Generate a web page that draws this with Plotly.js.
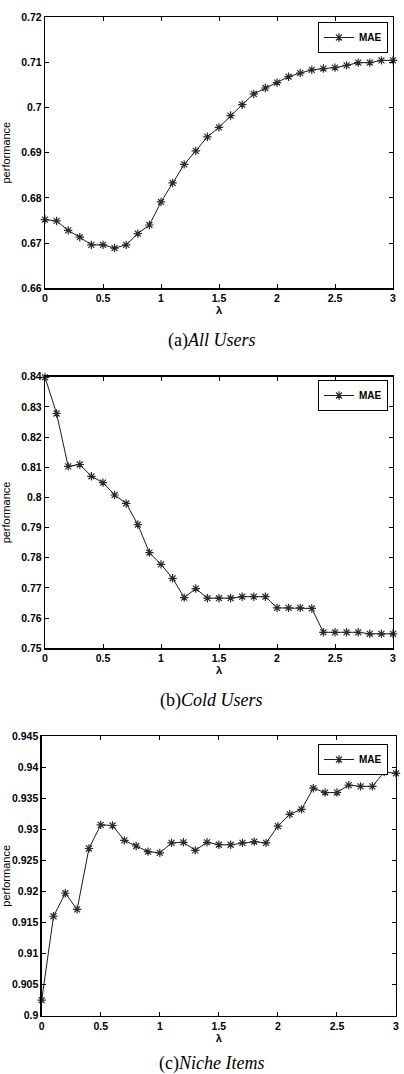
<!DOCTYPE html>
<html>
<head>
<meta charset="utf-8">
<script src="https://cdn.plot.ly/plotly-3.0.1.min.js"></script>
<style>
  html, body { margin: 0; padding: 0; background: #fff; }
  #chart { width: 404px; height: 1074px; }
</style>
</head>
<body>
<div id="chart"></div>
<script>
// Weight parameter lambda, shared by the three panels
const lambda = [0, 0.1, 0.2, 0.3, 0.4, 0.5, 0.6, 0.7, 0.8, 0.9,
                1.0, 1.1, 1.2, 1.3, 1.4, 1.5, 1.6, 1.7, 1.8, 1.9,
                2.0, 2.1, 2.2, 2.3, 2.4, 2.5, 2.6, 2.7, 2.8, 2.9, 3.0];

// MAE for all users
const maeAllUsers = [0.6752, 0.6749, 0.6728, 0.6713, 0.6696, 0.6696, 0.6689, 0.6696, 0.6721, 0.6740,
                     0.6791, 0.6833, 0.6874, 0.6904, 0.6935, 0.6956, 0.6982, 0.7006, 0.7030, 0.7043,
                     0.7055, 0.7068, 0.7076, 0.7083, 0.7086, 0.7088, 0.7093, 0.7099, 0.7099, 0.7104, 0.7104];

// MAE for cold users
const maeColdUsers = [0.8398, 0.8278, 0.8103, 0.8109, 0.8070, 0.8049, 0.8008, 0.7980, 0.7910, 0.7817,
                      0.7778, 0.7732, 0.7668, 0.7698, 0.7666, 0.7666, 0.7666, 0.7671, 0.7671, 0.7671,
                      0.7634, 0.7634, 0.7634, 0.7632, 0.7553, 0.7553, 0.7553, 0.7553, 0.7548, 0.7548, 0.7548];

// MAE for niche items
const maeNicheItems = [0.9025, 0.9160, 0.9197, 0.9171, 0.9269, 0.9307, 0.9306, 0.9282, 0.9273, 0.9264,
                       0.9262, 0.9278, 0.9279, 0.9266, 0.9279, 0.9275, 0.9275, 0.9278, 0.9280, 0.9278,
                       0.9305, 0.9324, 0.9332, 0.9366, 0.9359, 0.9359, 0.9371, 0.9369, 0.9369, 0.9392, 0.9390];

// Tick labels
const xTickVals = [0, 0.5, 1, 1.5, 2, 2.5, 3];
const xTickText = ['0', '0.5', '1', '1.5', '2', '2.5', '3'];
const yTickValsA = [0.66, 0.67, 0.68, 0.69, 0.70, 0.71, 0.72];
const yTickTextA = ['0.66', '0.67', '0.68', '0.69', '0.7', '0.71', '0.72'];
const yTickValsB = [0.75, 0.76, 0.77, 0.78, 0.79, 0.80, 0.81, 0.82, 0.83, 0.84];
const yTickTextB = ['0.75', '0.76', '0.77', '0.78', '0.79', '0.8', '0.81', '0.82', '0.83', '0.84'];
const yTickValsC = [0.9, 0.905, 0.91, 0.915, 0.92, 0.925, 0.93, 0.935, 0.94, 0.945];
const yTickTextC = ['0.9', '0.905', '0.91', '0.915', '0.92', '0.925', '0.93', '0.935', '0.94', '0.945'];

const seriesName = 'MAE';
const captions = [
  '(a)<i>All Users</i>',
  '(b)<i>Cold Users</i>',
  '(c)<i>Niche Items</i>'
];

const W = 404, H = 1074;
const px = v => v / W;
const py = v => 1 - v / H;

const tickFont = { family: 'Liberation Sans, Arial, sans-serif', size: 10.5, color: '#000', weight: 'bold' };

function xAxis(l, r, anchor) {
  return {
    domain: [px(l), px(r)], anchor: anchor, range: [0, 3],
    tickvals: xTickVals, ticktext: xTickText,
    ticks: 'inside', ticklen: 4, tickwidth: 1, tickcolor: '#000',
    showline: true, linecolor: '#000', linewidth: 1.3, mirror: 'ticks',
    showgrid: false, zeroline: false, tickfont: tickFont,
    title: { text: 'λ', standoff: 3,
             font: { family: 'Liberation Sans, Arial, sans-serif', size: 11, color: '#000', weight: 'bold' } }
  };
}
function yAxis(top, bottom, anchor, range, vals, text, standoff) {
  return {
    domain: [py(bottom), py(top)], anchor: anchor, range: range,
    tickvals: vals, ticktext: text,
    ticks: 'inside', ticklen: 4, tickwidth: 1, tickcolor: '#000',
    showline: true, linecolor: '#000', linewidth: 1.3, mirror: 'ticks',
    showgrid: false, zeroline: false, tickfont: tickFont,
    title: { text: 'performance', standoff: standoff,
             font: { family: 'Liberation Sans, Arial, sans-serif', size: 11, color: '#000' } }
  };
}

function series(y, xa, ya, lg) {
  return {
    x: lambda, y: y, xaxis: xa, yaxis: ya, legend: lg,
    name: seriesName, type: 'scatter', mode: 'lines+markers',
    line: { color: '#1a1a1a', width: 1 },
    marker: { symbol: 'asterisk-open', size: 7, color: '#2a2a2a', line: { color: '#2a2a2a', width: 1.2 } },
    cliponaxis: false
  };
}

const data = [
  series(maeAllUsers, 'x', 'y', 'legend'),
  series(maeColdUsers, 'x2', 'y2', 'legend2'),
  series(maeNicheItems, 'x3', 'y3', 'legend3')
];

function legendAt(topPx, rightPx) {
  return {
    x: px(rightPx), y: py(topPx), xanchor: 'right', yanchor: 'top',
    bgcolor: '#fff', bordercolor: '#000', borderwidth: 1,
    font: { family: 'Liberation Sans, Arial, sans-serif', size: 10, color: '#000', weight: 'bold' },
    itemwidth: 30, tracegroupgap: 0
  };
}

function caption(text, yPx) {
  return {
    text: text, xref: 'paper', yref: 'paper', x: px(211), y: py(yPx),
    xanchor: 'center', yanchor: 'middle', showarrow: false,
    font: { family: 'Liberation Serif, Times New Roman, serif', size: 18, color: '#000' }
  };
}

const layout = {
  width: W, height: H,
  margin: { l: 0, r: 0, t: 0, b: 0 },
  paper_bgcolor: '#fff', plot_bgcolor: '#fff',
  showlegend: true,
  xaxis: xAxis(45, 393, 'y'),
  yaxis: yAxis(17, 288.3, 'x', [0.66, 0.72], yTickValsA, yTickTextA, 8),
  xaxis2: xAxis(45, 393, 'y2'),
  yaxis2: yAxis(376.7, 648.3, 'x2', [0.75, 0.84], yTickValsB, yTickTextB, 8),
  xaxis3: xAxis(41.7, 396, 'y3'),
  yaxis3: yAxis(736, 1015.7, 'x3', [0.9, 0.945], yTickValsC, yTickTextC, 12),
  legend: legendAt(22, 388),
  legend2: legendAt(380, 388),
  legend3: legendAt(744, 388),
  annotations: [
    caption(captions[0], 340),
    caption(captions[1], 700),
    caption(captions[2], 1063)
  ]
};

Plotly.newPlot('chart', data, layout, { displayModeBar: false, staticPlot: true });
</script>
</body>
</html>
